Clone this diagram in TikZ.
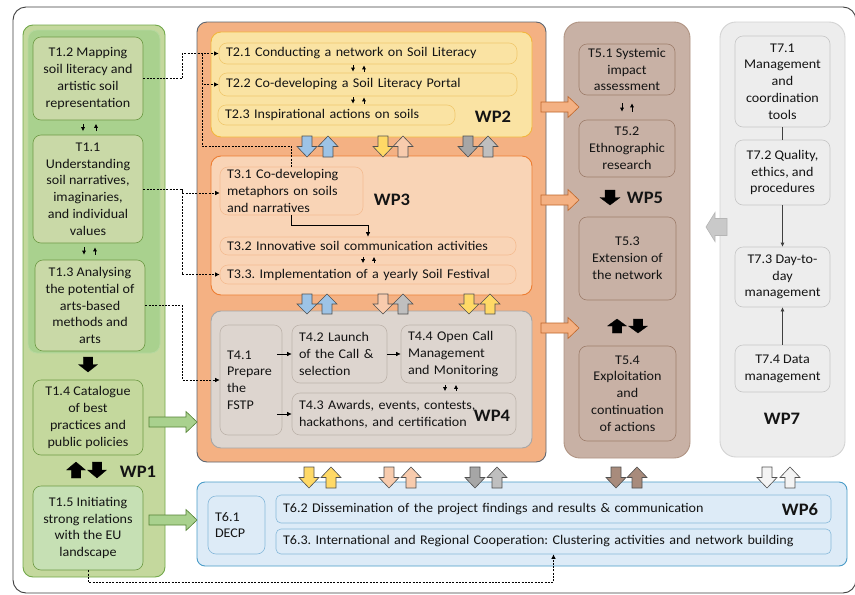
\documentclass[tikz,border=0pt]{standalone}
\usepackage{fontspec}
\setmainfont{Carlito}[FakeStretch=1.06]
\usetikzlibrary{arrows.meta,calc}
\frenchspacing
\definecolor{txt}{HTML}{141414}
\definecolor{frm}{HTML}{404040}
\definecolor{g1fill}{HTML}{C4D89D}
\definecolor{g1line}{HTML}{72A84A}
\definecolor{g1in}{HTML}{A9D18E}
\definecolor{g1task}{HTML}{C9D9A7}
\definecolor{g1tline}{HTML}{6E9A45}
\definecolor{g15}{HTML}{C6E0B4}
\definecolor{org}{HTML}{F4B183}
\definecolor{orgline}{HTML}{5F6670}
\definecolor{y2}{HTML}{FAE3A3}
\definecolor{y2line}{HTML}{F2B63D}
\definecolor{y2tline}{HTML}{F0C86E}
\definecolor{p3}{HTML}{F9D4B6}
\definecolor{p3line}{HTML}{ED7D31}
\definecolor{p3tline}{HTML}{F4BC92}
\definecolor{g4}{HTML}{DDD5CF}
\definecolor{g4line}{HTML}{A6A6A6}
\definecolor{g4tline}{HTML}{BDB3AB}
\definecolor{b5}{HTML}{C8B1A5}
\definecolor{b5line}{HTML}{B09483}
\definecolor{b5tline}{HTML}{9E7E6C}
\definecolor{bl6}{HTML}{DDEBF7}
\definecolor{bl6line}{HTML}{4A9CC8}
\definecolor{bl6tline}{HTML}{86B8DA}
\definecolor{gr7}{HTML}{EDEDED}
\definecolor{gr7line}{HTML}{D3D3D3}
\definecolor{gr7tline}{HTML}{C6C6C6}
\definecolor{aline}{HTML}{505050}
\definecolor{ablue}{HTML}{9DC3E6}
\definecolor{ayel}{HTML}{FFD966}
\definecolor{apeach}{HTML}{F8CBAD}
\definecolor{agray}{HTML}{BFBFBF}
\definecolor{agrayd}{HTML}{A6A6A6}
\definecolor{abrown}{HTML}{A88B7C}
\definecolor{awhite}{HTML}{F4F4F4}
\definecolor{aorange}{HTML}{F4B183}
\definecolor{aorline}{HTML}{C0662A}
\definecolor{agreen}{HTML}{A9D18E}
\definecolor{agrline}{HTML}{548235}
\definecolor{aw7}{HTML}{C9C9C9}
\definecolor{aw7line}{HTML}{B5B5B5}
\newcommand\tsk{\fontsize{13.3}{16.8}\selectfont}
\newcommand\wpf{\fontsize{17.5}{20}\selectfont\bfseries}
% box from corners: name, x1, y1, x2, y2, style, text
\newcommand{\tbox}[7]{%
  \pgfmathsetmacro\tbW{#4-#2}\pgfmathsetmacro\tbH{#5-#3}%
  \pgfmathsetmacro\tbX{(#2+#4)/2}\pgfmathsetmacro\tbY{(#3+#5)/2}%
  \pgfmathsetmacro\tbT{#4-#2-14}%
  \node[#6, minimum width=\tbW pt, minimum height=\tbH pt] (#1) at (\tbX,\tbY) {#7};}
% block arrows
\newcommand{\bdown}[5]{%
  \pgfmathsetmacro\baM{(#2+#3)/2}%
  \filldraw[#5] (#1-#4/4,#2) -- (#1+#4/4,#2) -- (#1+#4/4,\baM) -- (#1+#4/2,\baM) -- (#1,#3) -- (#1-#4/2,\baM) -- (#1-#4/4,\baM) -- cycle;}
\newcommand{\bup}[5]{%
  \pgfmathsetmacro\baM{(#2+#3)/2}%
  \filldraw[#5] (#1-#4/4,#3) -- (#1+#4/4,#3) -- (#1+#4/4,\baM) -- (#1+#4/2,\baM) -- (#1,#2) -- (#1-#4/2,\baM) -- (#1-#4/4,\baM) -- cycle;}
% x1, x2(tip), yc, bodyh, headh, headlen, style
\newcommand{\bright}[7]{%
  \filldraw[#7] (#1,#3-#4/2) -- (#2-#6,#3-#4/2) -- (#2-#6,#3-#5/2) -- (#2,#3) -- (#2-#6,#3+#5/2) -- (#2-#6,#3+#4/2) -- (#1,#3+#4/2) -- cycle;}
% xtip, x2, yc, bodyh, headh, headlen, style
\newcommand{\bleft}[7]{%
  \filldraw[#7] (#2,#3-#4/2) -- (#1+#6,#3-#4/2) -- (#1+#6,#3-#5/2) -- (#1,#3) -- (#1+#6,#3+#5/2) -- (#1+#6,#3+#4/2) -- (#2,#3+#4/2) -- cycle;}
\begin{document}
\begin{tikzpicture}[x=1pt,y=-1pt,
  every node/.style={font=\tsk, text=txt},
  wpbox/.style={draw, rounded corners=10pt, line width=0.9pt, inner sep=0pt},
  task/.style={draw, rounded corners=8pt, line width=0.6pt, inner sep=0pt, align=center},
  lt/.style={align=left, text width=\tbT pt},
  wplab/.style={font=\wpf, inner sep=0pt},
  smallarr/.style={-{Latex[length=4pt,width=4.2pt]}, line width=0.75pt, draw=black},
  sarr/.style={-{Latex[length=4.5pt,width=4.5pt]}, line width=0.65pt, draw=black},
  dline/.style={dash pattern=on 2pt off 1.3pt, line width=0.7pt, draw=black},
  garr/.style={line width=0.6pt, draw=frm},
  pairstyle/.style={fill=#1, draw=aline, line width=0.6pt},
  blk/.style={fill=black, draw=black, line width=0.3pt}
]
\useasboundingbox (0,0) rectangle (855,595);
\fill[white] (0,0) rectangle (855,595);
\draw[frm, line width=0.9pt, rounded corners=13pt] (13,7) rectangle (856,593);

% ---------- WP1 ----------
\tbox{wp1}{23}{25}{165}{577}{wpbox, fill=g1fill, draw=g1line}{}
\tbox{wp1in}{28}{30}{160}{353}{fill=g1in, draw=g1in!85!white, line width=0.8pt, rounded corners=9pt, inner sep=0pt}{}
\tbox{t12}{33}{37}{143}{120}{task, fill=g1task, draw=g1tline}{T1.2 Mapping\\soil literacy and\\artistic soil\\representation}
\tbox{t11}{33}{135}{143}{243}{task, fill=g1task, draw=g1tline}{T1.1\\Understanding\\soil narratives,\\imaginaries,\\and individual\\values}
\tbox{t13}{35}{260}{145}{351}{task, fill=g1task, draw=g1tline}{T1.3 Analysing\\the potential of\\arts-based\\methods and\\arts}
\tbox{t14}{33}{380}{143}{455}{task, fill=g1fill, draw=g1tline}{T1.4 Catalogue\\of best\\practices and\\public policies}
\tbox{t15}{33}{486}{143}{570}{task, fill=g15, draw=g1tline}{T1.5 Initiating\\strong relations\\with the EU\\landscape}
\node[wplab] (wp1l) at (138,472) {WP1};

% ---------- WP2/3/4 ----------
\tbox{wp234}{197}{22}{546}{462}{wpbox, fill=org, draw=orgline}{}
\tbox{wp2}{211}{32}{532}{137}{wpbox, fill=y2, draw=y2line}{}
\tbox{t21}{219}{43}{517}{64}{task, fill=y2, draw=y2tline, lt}{T2.1 Conducting a network on Soil Literacy}
\tbox{t22}{219}{73}{517}{96}{task, fill=y2, draw=y2tline, lt}{T2.2 Co-developing a Soil Literacy Portal}
\tbox{t23}{218}{105}{455}{125}{task, fill=y2, draw=y2tline, lt}{T2.3 Inspirational actions on soils}
\node[wplab] (wp2l) at (493,117) {WP2};

\tbox{wp3}{211}{156}{532}{295}{wpbox, fill=p3, draw=p3line}{}
\tbox{t31}{220}{167}{363}{215}{task, fill=p3, draw=p3tline, lt}{T3.1 Co-developing\\metaphors on soils\\and narratives}
\tbox{t32}{220}{237}{516}{255}{task, fill=p3, draw=p3tline, lt}{T3.2 Innovative soil communication activities}
\tbox{t33}{220}{265}{516}{284}{task, fill=p3, draw=p3tline, lt}{T3.3. Implementation of a yearly Soil Festival}
\node[wplab] (wp3l) at (392,200) {WP3};

\tbox{wp4}{211}{311}{532}{448}{wpbox, fill=g4, draw=g4line}{}
\tbox{t41}{220}{325}{282}{435}{task, fill=g4, draw=g4tline, lt}{T4.1\\Prepare\\the\\FSTP}
\tbox{t42}{292}{325}{387}{383}{task, fill=g4, draw=g4tline, lt}{T4.2 Launch\\of the Call \&\\selection}
\tbox{t44}{401}{325}{516}{383}{task, fill=g4, draw=g4tline, lt}{T4.4 Open Call\\Management\\and Monitoring}
\tbox{t43}{292}{393}{516}{435}{task, fill=g4, draw=g4tline, lt}{T4.3 Awards, events, contests,\\hackathons, and certification}
\node[wplab] (wp4l) at (492,416) {WP4};

% ---------- WP5 ----------
\tbox{wp5}{564}{22}{690}{458}{wpbox, rounded corners=16pt, fill=b5, draw=b5line}{}
\tbox{t51}{579}{44}{675}{95}{task, fill=b5, draw=b5tline}{T5.1 Systemic\\impact\\assessment}
\tbox{t52}{579}{120}{675}{177}{task, fill=b5, draw=b5tline}{T5.2\\Ethnographic\\research}
\tbox{t53}{579}{217}{676}{300}{task, fill=b5, draw=b5tline}{T5.3\\Extension of\\the network}
\tbox{t54}{579}{346}{676}{441}{task, fill=b5, draw=b5tline}{T5.4\\Exploitation\\and\\continuation\\of actions}
\node[wplab] (wp5l) at (645,198) {WP5};

% ---------- WP6 ----------
\tbox{wp6}{197}{482}{847}{566}{wpbox, rounded corners=8pt, fill=bl6, draw=bl6line}{}
\tbox{t61}{208}{496}{265}{554}{task, fill=bl6, draw=bl6tline, lt}{T6.1\\DECP}
\tbox{t62}{276}{495}{831}{523}{task, rounded corners=5pt, fill=bl6, draw=bl6tline, lt}{T6.2 Dissemination of the project findings and results \& communication}
\tbox{t63}{276}{529}{831}{554}{task, rounded corners=5pt, fill=bl6, draw=bl6tline, lt}{T6.3. International and Regional Cooperation: Clustering activities and network building}
\node[wplab] (wp6l) at (800,510) {WP6};

% ---------- WP7 ----------
\tbox{wp7}{720}{22}{845}{457}{wpbox, rounded corners=16pt, fill=gr7, draw=gr7line}{}
\tbox{t71}{735}{36}{830}{127}{task, fill=gr7, draw=gr7tline}{T7.1\\Management\\and\\coordination\\tools}
\tbox{t72}{735}{140}{830}{205}{task, fill=gr7, draw=gr7tline}{T7.2 Quality,\\ethics, and\\procedures}
\tbox{t73}{735}{247}{830}{307}{task, fill=gr7, draw=gr7tline}{T7.3 Day-to-\\day\\management}
\tbox{t74}{735}{345}{830}{392}{task, fill=gr7, draw=gr7tline}{T7.4 Data\\management}
\node[wplab] (wp7l) at (782,419) {WP7};

% ---------- small arrow pairs ----------
\draw[smallarr, shorten <=3.5pt, shorten >=3.5pt] ([xshift=-5pt]t12.south) -- ([xshift=-5pt]t11.north);
\draw[smallarr, shorten <=3.5pt, shorten >=3.5pt] ([xshift=8pt]t11.north) -- ([xshift=8pt]t12.south);
\draw[smallarr, shorten <=4pt, shorten >=5pt] ([xshift=-4pt]t11.south) -- ([xshift=-6pt]t13.north);
\draw[smallarr, shorten <=5pt, shorten >=4pt] ([xshift=5pt]t13.north) -- ([xshift=7pt]t11.south);
\draw[smallarr, shorten <=1pt, shorten >=1pt] ([xshift=-15pt]t21.south) -- ([xshift=-15pt]t22.north);
\draw[smallarr, shorten <=1pt, shorten >=1pt] ([xshift=-4pt]t22.north) -- ([xshift=-4pt]t21.south);
\draw[smallarr, shorten <=1pt, shorten >=1pt] ([xshift=-15pt]t22.south) -- ([xshift=16.5pt]t23.north);
\draw[smallarr, shorten <=1pt, shorten >=1pt] ([xshift=27.5pt]t23.north) -- ([xshift=-4pt]t22.south);
\draw[smallarr, shorten <=1.5pt, shorten >=1.5pt] ([xshift=-5pt]t32.south) -- ([xshift=-5pt]t33.north);
\draw[smallarr, shorten <=1.5pt, shorten >=1.5pt] ([xshift=6pt]t33.north) -- ([xshift=6pt]t32.south);
\draw[smallarr, shorten <=1.5pt, shorten >=1.5pt] ([xshift=-13.5pt]t44.south) -- ([xshift=41pt]t43.north);
\draw[smallarr, shorten <=1.5pt, shorten >=1.5pt] ([xshift=52pt]t43.north) -- ([xshift=-2.5pt]t44.south);
\draw[smallarr, shorten <=8pt, shorten >=8pt] ([xshift=-5pt]t51.south) -- ([xshift=-5pt]t52.north);
\draw[smallarr, shorten <=8pt, shorten >=8pt] ([xshift=5pt]t52.north) -- ([xshift=5pt]t51.south);

% ---------- solid connectors ----------
\draw[sarr] (t31.south) -- ++(0,10) -| (t32.north);
\draw[sarr] ($(t41.east|-t42.west)+(-5,0)$) -- (t42.west);
\draw[sarr] (t42.east) -- (t44.west);
\draw[sarr] ($(t41.east|-t43.west)+(-5,0)$) -- (t43.west);
\draw[garr] (t71.south) -- (t72.north);
\draw[garr, -{Latex[length=4pt,width=4pt]}] (t72.south) -- (t73.north);
\draw[garr, -{Latex[length=4pt,width=4pt]}] (t74.north) -- (t73.south);

% ---------- dashed connectors ----------
\coordinate (d1) at (202,53.5);
\coordinate (d2) at (202,146);
\coordinate (d3) at (182,189);
\draw[dline, -{Latex[length=4.5pt,width=4.5pt]}] (t12.east) -- ++(39,0) |- (t21.west);
\draw[dline, -{Latex[length=4.5pt,width=4.5pt]}] (d1) |- (t22.west);
\draw[dline] (d1) -- (d2) -| (t31.north);
\draw[dline, -{Latex[length=4.5pt,width=4.5pt]}] (t11.east) -- (d3) |- ($(t31.west)+(0,2)$);
\draw[dline, -{Latex[length=4.5pt,width=4.5pt]}] (d3) |- (t33.west);
\draw[dline, -{Latex[length=4.5pt,width=4.5pt]}] (t13.east) -- ++(37,0) |- (t41.west);
\draw[dline, -{Latex[length=4.5pt,width=4.5pt]}] (t15.south) -- ++(0,12) -| (t63.south);

% ---------- black block arrows ----------
\bdown{88}{357}{372}{19}{blk}
\bup{76}{462}{478}{19}{blk}
\bdown{97}{462}{478}{19}{blk}
\bdown{610}{190}{205}{20}{blk}
\bup{617}{319}{333}{19}{blk}
\bdown{638}{319}{333}{19}{blk}

% ---------- coloured arrow pairs ----------
\bdown{307}{136}{157}{20}{pairstyle=ablue}
\bup{328}{136}{157}{20}{pairstyle=ablue}
\bdown{383}{136}{157}{20}{pairstyle=ayel}
\bup{403}{136}{157}{20}{pairstyle=apeach}
\bdown{468}{136}{157}{20}{pairstyle=agrayd}
\bup{488}{136}{157}{20}{pairstyle=agray}

\bdown{307}{294}{314}{20}{pairstyle=ablue}
\bup{327}{294}{314}{20}{pairstyle=ablue}
\bdown{383}{294}{314}{20}{pairstyle=apeach}
\bup{403}{294}{314}{20}{pairstyle=agray}
\bdown{469}{294}{314}{20}{pairstyle=ayel}
\bup{490}{294}{314}{20}{pairstyle=ayel}

\bdown{309}{467}{488}{20}{pairstyle=ayel}
\bup{331}{467}{488}{20}{pairstyle=ayel}
\bdown{389}{467}{488}{20}{pairstyle=apeach}
\bup{411}{467}{488}{20}{pairstyle=apeach}
\bdown{475}{467}{488}{20}{pairstyle=agrayd}
\bup{497}{467}{488}{20}{pairstyle=agray}
\bdown{616}{467}{488}{20}{pairstyle=abrown}
\bup{637}{467}{488}{20}{pairstyle=abrown}
\bdown{767}{467}{488}{20}{pairstyle=awhite}
\bup{790}{467}{488}{20}{pairstyle=awhite}

% ---------- right / left block arrows ----------
\bright{541}{579}{107}{10}{21}{11}{fill=aorange, draw=aorline, line width=0.6pt}
\bright{541}{579}{200}{10}{21}{11}{fill=aorange, draw=aorline, line width=0.6pt}
\bright{541}{579}{328}{10}{21}{11}{fill=aorange, draw=aorline, line width=0.6pt}
\bright{149}{197}{422}{10}{21}{11}{fill=agreen, draw=agrline, line width=0.6pt}
\bright{149}{197}{520}{10}{21}{11}{fill=agreen, draw=agrline, line width=0.6pt}
\bleft{706}{727}{227}{17}{29}{9}{fill=aw7, draw=aw7line, line width=0.6pt}
\end{tikzpicture}
\end{document}
